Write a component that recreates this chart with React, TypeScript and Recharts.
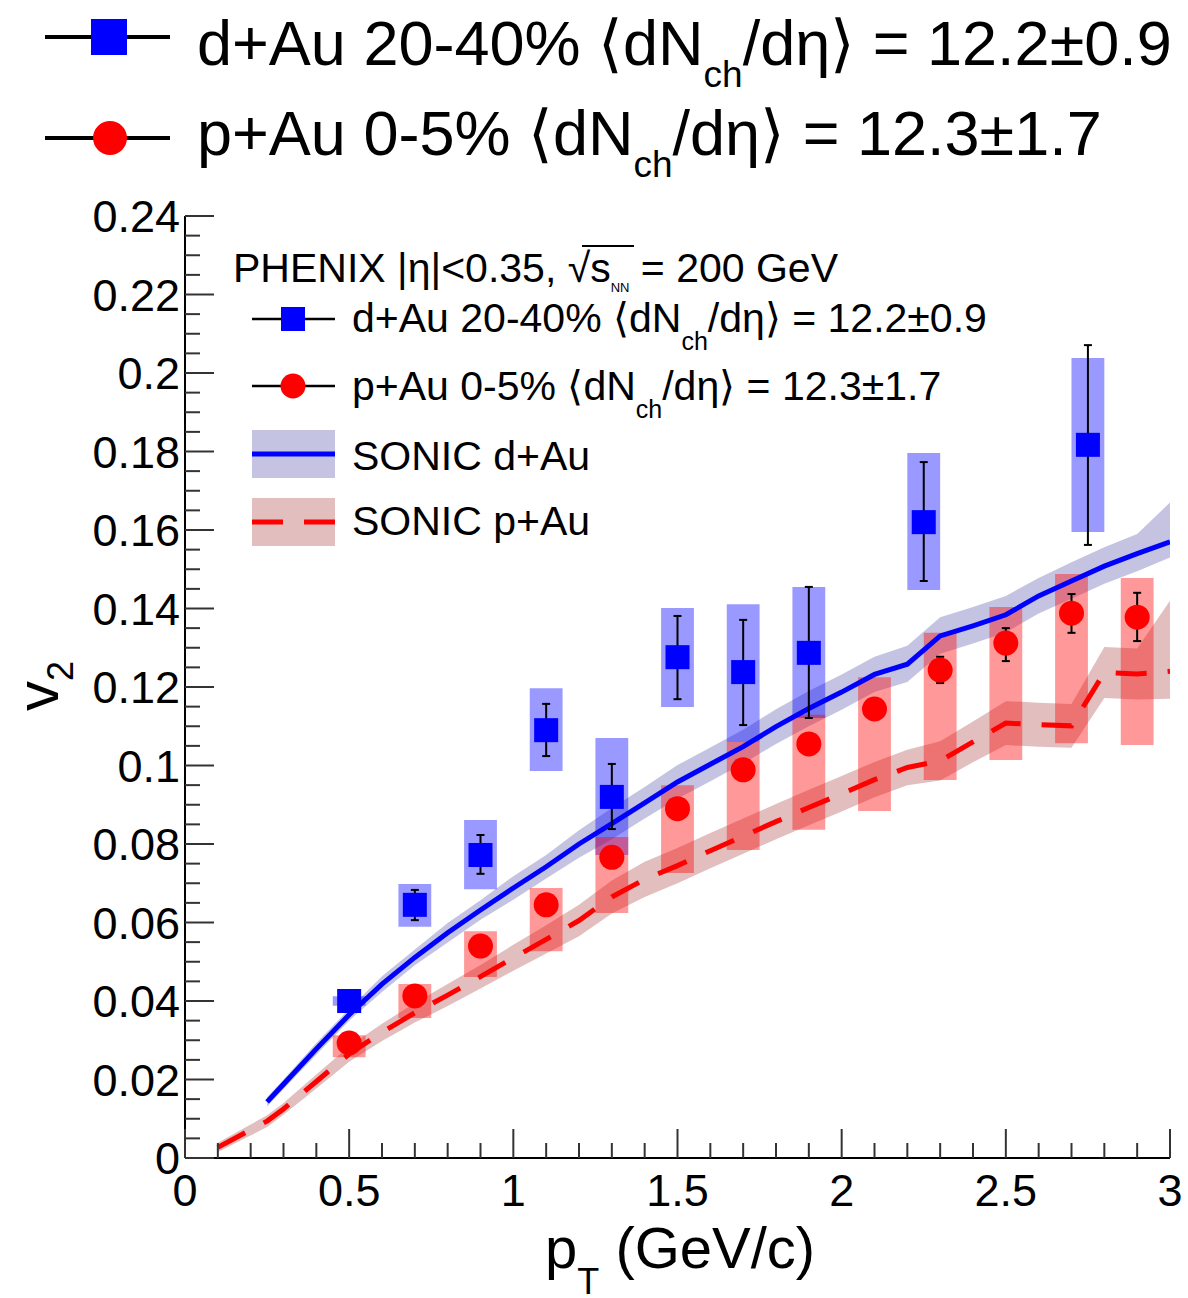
import React from "react";
import {
  ComposedChart,
  Area,
  Line,
  Scatter,
  XAxis,
  YAxis,
  ErrorBar,
  ReferenceArea,
} from "recharts";

// PHENIX d+Au 20-40% v2(pT)
const dAuPt = [0.5, 0.7, 0.9, 1.1, 1.3, 1.5, 1.7, 1.9, 2.25, 2.75];
const dAuV2 = [0.04, 0.0645, 0.0772, 0.109, 0.092, 0.1276, 0.1238, 0.1287, 0.162, 0.1817];
const dAuStatLo = [0.0395, 0.0606, 0.0724, 0.1024, 0.0838, 0.1169, 0.1103, 0.1121, 0.147, 0.1562];
const dAuStatHi = [0.0405, 0.0683, 0.0823, 0.1157, 0.1004, 0.1381, 0.1371, 0.1455, 0.1773, 0.2071];
const dAuSysLo = [0.0388, 0.0589, 0.0685, 0.0986, 0.0772, 0.1149, 0.106, 0.1121, 0.1447, 0.1595];
const dAuSysHi = [0.0412, 0.0698, 0.0861, 0.1197, 0.107, 0.1401, 0.1411, 0.1455, 0.1796, 0.2038];

// PHENIX p+Au 0-5% v2(pT)
const pAuPt = [0.5, 0.7, 0.9, 1.1, 1.3, 1.5, 1.7, 1.9, 2.1, 2.3, 2.5, 2.7, 2.9];
const pAuV2 = [0.0293, 0.0413, 0.054, 0.0645, 0.0766, 0.089, 0.0989, 0.1055, 0.1144, 0.1243, 0.1312, 0.1388, 0.1378];
const pAuStatLo = [0.0288, 0.0408, 0.0535, 0.064, 0.0759, 0.0882, 0.098, 0.1045, 0.1134, 0.121, 0.1266, 0.1338, 0.1317];
const pAuStatHi = [0.0298, 0.0418, 0.0545, 0.065, 0.0773, 0.0898, 0.0998, 0.1065, 0.1154, 0.1277, 0.135, 0.1437, 0.144];
const pAuSysLo = [0.0257, 0.0357, 0.0461, 0.0527, 0.0624, 0.0726, 0.0785, 0.0836, 0.0884, 0.0963, 0.1014, 0.1057, 0.1052];
const pAuSysHi = [0.0313, 0.0443, 0.0578, 0.0688, 0.0818, 0.095, 0.106, 0.1129, 0.1225, 0.1338, 0.1404, 0.1488, 0.1478];

// SONIC d+Au
const sonicDAuPt = [0.25, 0.3, 0.4, 0.5, 0.6, 0.7, 0.8, 0.9, 1.0, 1.1, 1.2, 1.3, 1.4, 1.5, 1.6, 1.7, 1.8, 1.9, 2.0, 2.1, 2.2, 2.3, 2.4, 2.5, 2.6, 2.7, 2.8, 2.9, 3.0];
const sonicDAuV2 = [0.0143, 0.0188, 0.0278, 0.0365, 0.0443, 0.0511, 0.0574, 0.0632, 0.0688, 0.0742, 0.08, 0.0852, 0.0905, 0.0958, 0.1003, 0.1048, 0.1099, 0.1145, 0.1187, 0.1232, 0.1258, 0.133, 0.1356, 0.1384, 0.1432, 0.147, 0.1508, 0.154, 0.157];
const sonicDAuLo = [0.0131, 0.0176, 0.0263, 0.035, 0.0423, 0.0491, 0.0549, 0.0607, 0.0658, 0.0712, 0.0765, 0.0812, 0.0865, 0.0915, 0.096, 0.1005, 0.1055, 0.11, 0.1142, 0.1187, 0.1213, 0.1285, 0.1311, 0.1339, 0.1387, 0.1425, 0.1463, 0.1495, 0.153];
const sonicDAuHi = [0.0155, 0.02, 0.0293, 0.038, 0.0463, 0.0531, 0.0599, 0.0657, 0.0718, 0.0772, 0.0835, 0.0892, 0.0945, 0.1001, 0.1046, 0.1091, 0.1143, 0.119, 0.1232, 0.1277, 0.1305, 0.1378, 0.1404, 0.1432, 0.1478, 0.1518, 0.1556, 0.159, 0.167];

// SONIC p+Au
const sonicPAuPt = [0.1, 0.25, 0.3, 0.4, 0.5, 0.6, 0.7, 0.8, 0.9, 1.0, 1.1, 1.2, 1.3, 1.4, 1.5, 1.6, 1.7, 1.8, 1.9, 2.0, 2.1, 2.2, 2.3, 2.4, 2.5, 2.6, 2.7, 2.8, 2.9, 3.0];
const sonicPAuV2 = [0.0027, 0.0094, 0.0125, 0.0195, 0.0265, 0.032, 0.037, 0.0415, 0.0462, 0.051, 0.0557, 0.0605, 0.0665, 0.071, 0.0745, 0.0783, 0.082, 0.0857, 0.0893, 0.0928, 0.0964, 0.0995, 0.1012, 0.106, 0.1108, 0.1104, 0.1101, 0.1237, 0.1233, 0.124];
const sonicPAuLo = [0.0015, 0.0079, 0.011, 0.0177, 0.0245, 0.0298, 0.0345, 0.0387, 0.0432, 0.0477, 0.0521, 0.0565, 0.0623, 0.0665, 0.07, 0.0738, 0.0775, 0.0812, 0.0848, 0.0883, 0.0919, 0.095, 0.0962, 0.1008, 0.1052, 0.1048, 0.1045, 0.1172, 0.1168, 0.117];
const sonicPAuHi = [0.0039, 0.0109, 0.014, 0.0213, 0.0285, 0.0342, 0.0395, 0.0443, 0.0492, 0.0543, 0.0593, 0.0645, 0.0707, 0.0755, 0.079, 0.0828, 0.0865, 0.0902, 0.0938, 0.0973, 0.1009, 0.104, 0.1062, 0.1112, 0.1164, 0.116, 0.1157, 0.1302, 0.1298, 0.142];

// axes
const xTicks = Array.from({ length: 31 }, (_, i) => i / 10);
const yTicks = Array.from({ length: 49 }, (_, i) => +(i * 0.005).toFixed(3));
const SYS_HALF_WIDTH = 0.05;

const FONT = "'Liberation Sans', Arial, Helvetica, sans-serif";

const toPoints = (pt: number[], v2: number[], lo: number[], hi: number[]) =>
  pt.map((x, i) => ({ x, y: v2[i], err: [v2[i] - lo[i], hi[i] - v2[i]] }));

const toBand = (pt: number[], v2: number[], lo: number[], hi: number[]) =>
  pt.map((x, i) => ({ x, y: v2[i], band: [lo[i], hi[i]] }));

const dAuData = toPoints(dAuPt, dAuV2, dAuStatLo, dAuStatHi);
const pAuData = toPoints(pAuPt, pAuV2, pAuStatLo, pAuStatHi);
const sonicDAu = toBand(sonicDAuPt, sonicDAuV2, sonicDAuLo, sonicDAuHi);
const sonicPAu = toBand(sonicPAuPt, sonicPAuV2, sonicPAuLo, sonicPAuHi);

const isMajor = (v: number, step: number) => Math.abs(v / step - Math.round(v / step)) < 1e-6;

const TICK_COLOR = "#333";
const MAJOR = 29;
const MINOR = 15;

function BottomTick(props: any) {
  const { x, y, payload } = props;
  const major = isMajor(payload.value, 0.5);
  return (
    <g>
      <line x1={x} y1={y} x2={x} y2={y - (major ? MAJOR : MINOR)} stroke={TICK_COLOR} strokeWidth={2} />
      {major && (
        <text x={x} y={y + 48} textAnchor="middle" fontSize={45} fontFamily={FONT} fill="#000">
          {String(payload.value)}
        </text>
      )}
    </g>
  );
}

function TopTick(props: any) {
  const { x, y, payload } = props;
  const major = isMajor(payload.value, 0.5);
  return <line x1={x} y1={y} x2={x} y2={y + (major ? MAJOR : MINOR)} stroke={TICK_COLOR} strokeWidth={2} />;
}

function LeftTick(props: any) {
  const { x, y, payload } = props;
  const major = isMajor(payload.value, 0.02);
  return (
    <g>
      <line x1={x} y1={y} x2={x + (major ? MAJOR : MINOR)} y2={y} stroke={TICK_COLOR} strokeWidth={2} />
      {major && (
        <text x={x - 5} y={y} dy="0.36em" textAnchor="end" fontSize={45} fontFamily={FONT} fill="#000">
          {String(+payload.value.toFixed(2))}
        </text>
      )}
    </g>
  );
}

function RightTick(props: any) {
  const { x, y, payload } = props;
  const major = isMajor(payload.value, 0.02);
  return <line x1={x} y1={y} x2={x - (major ? MAJOR : MINOR)} y2={y} stroke={TICK_COLOR} strokeWidth={2} />;
}

const Square = (p: any) => <rect x={p.cx - 12} y={p.cy - 12} width={24} height={24} fill="#0000ff" />;
const Dot = (p: any) => <circle cx={p.cx} cy={p.cy} r={12.5} fill="#ff0000" />;

function Overlay() {
  return (
    <svg
      width={1188}
      height={1298}
      style={{ position: "absolute", left: 0, top: 0, pointerEvents: "none" }}
      fontFamily={FONT}
    >
      {/* outer legend */}
      <line x1={45} y1={37} x2={170} y2={37} stroke="#000" strokeWidth={4} />
      <rect x={91} y={19} width={36} height={36} fill="#0000ff" />
      <text x={197} y={65} fontSize={63}>
        d+Au 20-40% ⟨dN
        <tspan fontSize={37} dy={22}>ch</tspan>
        <tspan dy={-22}>/dη⟩ = 12.2±0.9</tspan>
      </text>
      <line x1={45} y1={138} x2={170} y2={138} stroke="#000" strokeWidth={4} />
      <circle cx={110} cy={138} r={17} fill="#ff0000" />
      <text x={197} y={155} fontSize={63}>
        p+Au 0-5% ⟨dN
        <tspan fontSize={37} dy={22}>ch</tspan>
        <tspan dy={-22}>/dη⟩ = 12.3±1.7</tspan>
      </text>

      {/* inner legend */}
      <text x={233} y={282} fontSize={41}>
        PHENIX |η|&lt;0.35, √s
        <tspan fontSize={13} dy={10}>NN</tspan>
        <tspan dy={-10}> = 200 GeV</tspan>
      </text>
      <line x1={582} y1={246} x2={634} y2={246} stroke="#000" strokeWidth={2} />

      <line x1={252} y1={319} x2={335} y2={319} stroke="#000" strokeWidth={2.5} />
      <rect x={281} y={307} width={24} height={24} fill="#0000ff" />
      <text x={352} y={332} fontSize={41}>
        d+Au 20-40% ⟨dN
        <tspan fontSize={25} dy={18}>ch</tspan>
        <tspan dy={-18}>/dη⟩ = 12.2±0.9</tspan>
      </text>

      <line x1={252} y1={386} x2={335} y2={386} stroke="#000" strokeWidth={2.5} />
      <circle cx={293} cy={386} r={12.5} fill="#ff0000" />
      <text x={352} y={400} fontSize={41}>
        p+Au 0-5% ⟨dN
        <tspan fontSize={25} dy={18}>ch</tspan>
        <tspan dy={-18}>/dη⟩ = 12.3±1.7</tspan>
      </text>

      <rect x={252} y={430} width={83} height={48} fill="rgb(60,60,160)" fillOpacity={0.3} />
      <line x1={252} y1={454} x2={335} y2={454} stroke="#0000ff" strokeWidth={5} />
      <text x={352} y={470} fontSize={41}>SONIC d+Au</text>

      <rect x={252} y={498} width={83} height={48} fill="rgb(160,40,40)" fillOpacity={0.3} />
      <line x1={252} y1={522} x2={335} y2={522} stroke="#ff0000" strokeWidth={5} strokeDasharray="31 21" />
      <text x={352} y={535} fontSize={41}>SONIC p+Au</text>

      {/* axis titles */}
      <text x={545} y={1268} fontSize={58}>
        p
        <tspan fontSize={36} dy={26}>T</tspan>
        <tspan dy={-26}> (GeV/c)</tspan>
      </text>
      <text x={58} y={686} fontSize={60} textAnchor="middle" transform="rotate(-90 58 686)">
        v<tspan fontSize={36} dy={15}>2</tspan>
      </text>
    </svg>
  );
}

export default function App() {
  return (
    <div style={{ position: "absolute", left: 0, top: 0, width: 1188, height: 1298, background: "#fff" }}>
      <ComposedChart width={1188} height={1298} margin={{ top: 216, right: 18, bottom: 80, left: 85 }}>
        <XAxis
          dataKey="x"
          type="number"
          domain={[0, 3]}
          ticks={xTicks}
          interval={0}
          height={60}
          tickSize={0}
          tickMargin={0}
          tickLine={false}
          tick={<BottomTick />}
          axisLine={{ stroke: "#000", strokeWidth: 2 }}
          allowDataOverflow
        />
        <XAxis
          xAxisId="top"
          orientation="top"
          type="number"
          domain={[0, 3]}
          ticks={xTicks}
          interval={0}
          height={0}
          tickSize={0}
          tickMargin={0}
          tickLine={false}
          tick={<TopTick />}
          axisLine={{ stroke: "#000", strokeWidth: 2 }}
          allowDataOverflow
        />
        <YAxis
          type="number"
          domain={[0, 0.24]}
          ticks={yTicks}
          interval={0}
          width={100}
          tickSize={0}
          tickMargin={0}
          tickLine={false}
          tick={<LeftTick />}
          axisLine={{ stroke: "#000", strokeWidth: 2 }}
          allowDataOverflow
        />
        <YAxis
          yAxisId="right"
          orientation="right"
          type="number"
          domain={[0, 0.24]}
          ticks={yTicks}
          interval={0}
          width={0}
          tickSize={0}
          tickMargin={0}
          tickLine={false}
          tick={<RightTick />}
          axisLine={{ stroke: "#000", strokeWidth: 2 }}
          allowDataOverflow
        />

        <Area
          data={sonicPAu}
          dataKey="band"
          type="linear"
          stroke="none"
          fill="rgb(160,40,40)"
          fillOpacity={0.3}
          isAnimationActive={false}
        />
        <Area
          data={sonicDAu}
          dataKey="band"
          type="linear"
          stroke="none"
          fill="rgb(60,60,160)"
          fillOpacity={0.3}
          isAnimationActive={false}
        />
        <Line
          data={sonicPAu}
          dataKey="y"
          type="linear"
          stroke="#ff0000"
          strokeWidth={5}
          strokeDasharray="31 21"
          dot={false}
          isAnimationActive={false}
        />
        <Line
          data={sonicDAu}
          dataKey="y"
          type="linear"
          stroke="#0000ff"
          strokeWidth={5}
          dot={false}
          isAnimationActive={false}
        />

        {dAuPt.map((x, i) => (
          <ReferenceArea
            key={"dsys" + i}
            x1={x - SYS_HALF_WIDTH}
            x2={x + SYS_HALF_WIDTH}
            y1={dAuSysLo[i]}
            y2={dAuSysHi[i]}
            fill="#0000ff"
            fillOpacity={0.4}
            stroke="none"
          />
        ))}
        {pAuPt.map((x, i) => (
          <ReferenceArea
            key={"psys" + i}
            x1={x - SYS_HALF_WIDTH}
            x2={x + SYS_HALF_WIDTH}
            y1={pAuSysLo[i]}
            y2={pAuSysHi[i]}
            fill="#ff0000"
            fillOpacity={0.4}
            stroke="none"
          />
        ))}

        <Scatter data={pAuData} dataKey="y" shape={Dot} isAnimationActive={false}>
          <ErrorBar dataKey="err" direction="y" width={4} stroke="#000" strokeWidth={2} />
        </Scatter>
        <Scatter data={dAuData} dataKey="y" shape={Square} isAnimationActive={false}>
          <ErrorBar dataKey="err" direction="y" width={4} stroke="#000" strokeWidth={2} />
        </Scatter>
      </ComposedChart>
      <Overlay />
    </div>
  );
}
